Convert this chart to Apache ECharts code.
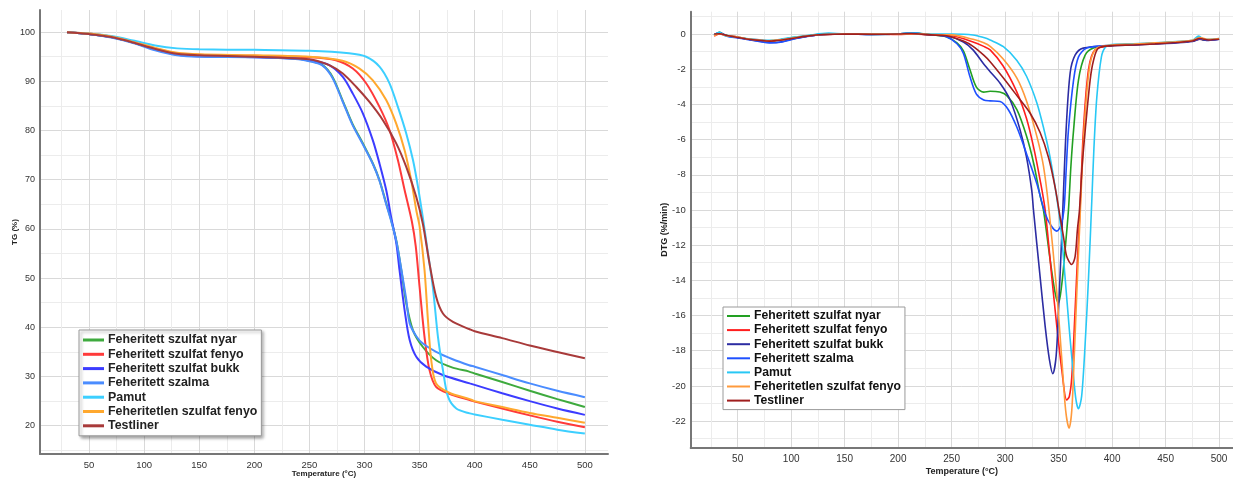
<!DOCTYPE html>
<html>
<head>
<meta charset="utf-8">
<script src="https://cdn.jsdelivr.net/npm/echarts@6/dist/echarts.min.js"></script>
<style>
html,body{margin:0;padding:0;background:#fff;}
#tg{position:absolute;left:0;top:0;width:620px;height:479px;}
#dtg{position:absolute;left:620px;top:0;width:613px;height:479px;}
</style>
</head>
<body>
<div id="tg"></div>
<div id="dtg"></div>
<script>
// ---------- DATA ----------
const SERIES_NAMES = [
  "Feheritett szulfat nyar",
  "Feheritett szulfat fenyo",
  "Feheritett szulfat bukk",
  "Feheritett szalma",
  "Pamut",
  "Feheritetlen szulfat fenyo",
  "Testliner"
];

const TEMP_MAJOR_TICKS = [50, 100, 150, 200, 250, 300, 350, 400, 450, 500];
const TEMP_MINOR_TICKS = [25, 75, 125, 175, 225, 275, 325, 375, 425, 475];
const TG_MAJOR_TICKS = [20, 30, 40, 50, 60, 70, 80, 90, 100];
const TG_MINOR_TICKS = [15, 25, 35, 45, 55, 65, 75, 85, 95];
const DTG_MAJOR_TICKS = [-22, -20, -18, -16, -14, -12, -10, -8, -6, -4, -2, 0];
const DTG_MINOR_TICKS = [-23, -21, -19, -17, -15, -13, -11, -9, -7, -5, -3, -1, 1];

// TG (%) vs temperature (°C)
const tgNyar = [[30,100],[50,99.6],[70,99.0],[90,97.9],[110,96.5],[130,95.5],[150,95.2],[200,95.0],[240,94.6],[250,94.2],[262,93.3],[271,90.9],[280,86.2],[289,81.4],[298.5,77.4],[307.6,73.3],[313.6,69.9],[319.7,65.2],[324.2,61.8],[329,57.5],[333.5,51.5],[338,44.8],[344,39.4],[353,36.0],[365,33.3],[380,31.8],[395,31.0],[400,30.6],[425,28.9],[450,27.1],[475,25.4],[500,23.8]];
const tgFenyo = [[30,100],[50,99.7],[70,99.1],[90,98.0],[110,96.7],[130,95.7],[150,95.4],[200,95.2],[250,94.9],[274,94.3],[289.4,92.6],[301.5,89.6],[313.6,84.8],[322.7,80.1],[330.3,74.0],[336.4,67.9],[343,61.5],[346.5,56.5],[350,48.2],[354.5,38.0],[359,31.3],[365,27.9],[377,26.5],[395.5,25.2],[400,24.9],[425,23.5],[450,22.1],[475,20.8],[500,19.7]];
const tgBukk = [[30,100],[50,99.6],[70,99.0],[90,97.9],[110,96.5],[130,95.4],[150,95.1],[200,94.9],[240,94.6],[250,94.3],[268,93.3],[280.3,90.9],[289.4,87.5],[298.5,83.5],[307.6,78.0],[313.6,73.3],[319.7,67.9],[324.2,62.4],[328.8,57.2],[331.8,51.6],[336.4,43.5],[341,37.4],[347,34.0],[356,32.0],[371,30.3],[395.5,28.6],[400,28.3],[425,26.6],[450,25.0],[475,23.5],[500,22.2]];
const tgSzalma = [[30,100],[50,99.6],[70,98.9],[90,97.8],[110,96.3],[130,95.3],[150,95.0],[200,94.9],[240,94.5],[250,94.1],[262,93.2],[271,90.7],[280,86.0],[289,81.2],[298.5,77.2],[307.6,73.2],[313.6,69.8],[319.7,65.0],[324.2,61.6],[329,57.4],[334,51.0],[338,45.5],[341,40.8],[347,38.2],[353,36.7],[365,35.0],[380,33.5],[395,32.3],[400,32.0],[425,30.3],[450,28.6],[475,27.1],[500,25.8]];
const tgPamut = [[30,100],[50,99.7],[70,99.2],[90,98.3],[110,97.3],[130,96.7],[150,96.5],[200,96.4],[250,96.2],[286,95.7],[301.5,95.0],[313.6,93.0],[322.7,89.6],[330.3,84.8],[337.9,79.4],[344,74.0],[348.5,68.6],[353.5,61.5],[357,56.0],[362,48.2],[366.7,38.0],[371.2,31.3],[375.8,25.9],[383.3,23.5],[395.5,22.5],[400,22.3],[425,21.2],[450,20.2],[475,19.2],[500,18.4]];
const tgFeheritetlen = [[30,100],[50,99.7],[70,99.1],[90,98.0],[110,96.8],[130,95.8],[150,95.5],[200,95.3],[250,95.0],[280,94.2],[295.5,92.6],[307.6,90.2],[319.7,86.2],[328.8,81.4],[336.4,76.0],[342.4,69.9],[347,63.8],[350,60.5],[354.5,51.6],[357.6,41.4],[360.6,33.3],[365,28.6],[377,26.7],[395.5,25.4],[400,25.0],[425,23.8],[450,22.6],[475,21.6],[500,20.6]];
const tgTestliner = [[30,100],[50,99.6],[70,99.0],[90,97.9],[110,96.6],[130,95.6],[150,95.3],[200,95.0],[250,94.5],[268,93.3],[280.3,91.6],[292.4,88.9],[304.5,85.8],[316.7,82.1],[328.8,77.4],[337.9,72.6],[347,66.5],[353,61.0],[359,53.0],[365,46.2],[371.2,42.8],[380.3,41.1],[395.5,39.6],[400,39.2],[425,37.8],[450,36.3],[475,35.0],[500,33.7]];

// DTG (%/min) vs temperature (°C)
const dtgNyar = [[28,-0.08],[33,0.1],[38,-0.05],[50,-0.18],[60,-0.28],[70,-0.35],[80,-0.38],[90,-0.33],[100,-0.22],[115,-0.1],[130,-0.02],[150,0.02],[175,-0.02],[200,0.0],[212,0.05],[230,-0.03],[245,-0.15],[255,-0.5],[261,-0.95],[267,-2.0],[273,-3.0],[280,-3.3],[286,-3.25],[295,-3.3],[301.6,-3.5],[311,-4.3],[320,-5.8],[326.5,-7.3],[332.7,-9.2],[335.8,-10.0],[342,-12.8],[346.7,-14.7],[349.9,-15.3],[353,-14.2],[356,-12.3],[359.2,-10.0],[361.5,-7.5],[364,-5.45],[368.6,-2.6],[374.8,-1.2],[382.6,-0.8],[400,-0.65],[420,-0.58],[440,-0.52],[460,-0.45],[475,-0.38],[481,-0.2],[486,-0.35],[500,-0.28]];
const dtgFenyo = [[28,-0.12],[33,0.0],[40,-0.1],[50,-0.17],[60,-0.3],[70,-0.33],[80,-0.4],[90,-0.32],[100,-0.25],[115,-0.12],[130,-0.04],[150,0.0],[175,0.0],[200,-0.02],[215,0.0],[230,-0.05],[250,-0.1],[270,-0.45],[280,-0.7],[286,-0.9],[298,-1.8],[311,-3.3],[320,-4.8],[326.5,-6.4],[332.7,-8.3],[337.4,-10.0],[343.6,-13.8],[348.3,-16.6],[353,-19.1],[357.5,-20.8],[360,-20.6],[362.3,-19.5],[365.4,-15.7],[367.6,-12.8],[370,-10.0],[373.2,-5.45],[378,-2.0],[384,-0.9],[400,-0.65],[420,-0.6],[440,-0.53],[460,-0.46],[475,-0.4],[482,-0.3],[490,-0.33],[500,-0.27]];
const dtgBukk = [[28,-0.05],[33,0.05],[40,-0.1],[50,-0.2],[60,-0.3],[70,-0.4],[80,-0.48],[90,-0.45],[100,-0.3],[115,-0.12],[130,-0.02],[150,0.0],[175,-0.02],[200,0.0],[212,0.06],[230,-0.05],[245,-0.1],[261,-0.45],[270,-0.9],[280,-1.7],[286,-2.14],[295.3,-2.8],[304.7,-3.75],[314,-5.45],[320,-7.0],[324.9,-8.9],[326.5,-10.0],[332.7,-13.8],[337.4,-16.6],[341.4,-18.5],[344.6,-19.3],[347.7,-18.3],[349.9,-15.7],[352,-12.8],[353.9,-10.0],[357,-5.45],[360.8,-2.2],[365.4,-1.2],[373,-0.8],[400,-0.66],[420,-0.62],[440,-0.56],[460,-0.5],[475,-0.42],[482,-0.3],[490,-0.36],[500,-0.3]];
const dtgSzalma = [[28,-0.05],[33,0.08],[40,-0.12],[50,-0.22],[60,-0.32],[70,-0.42],[80,-0.5],[90,-0.47],[100,-0.32],[115,-0.14],[130,-0.03],[150,0.01],[175,-0.02],[200,0.0],[212,0.05],[230,-0.04],[245,-0.15],[255,-0.55],[261,-1.1],[267,-2.4],[273,-3.4],[280,-3.75],[286,-3.8],[295.3,-3.84],[303,-4.3],[311,-5.3],[320,-6.8],[329.6,-8.5],[337.4,-10.2],[343,-10.9],[348.3,-11.2],[352,-10.9],[355,-10.0],[357,-7.8],[359.2,-5.45],[364,-2.6],[368.6,-1.3],[376.3,-0.8],[400,-0.64],[420,-0.6],[440,-0.54],[460,-0.48],[475,-0.4],[482,-0.28],[490,-0.34],[500,-0.29]];
const dtgPamut = [[28,-0.05],[33,0.1],[38,-0.1],[50,-0.18],[60,-0.27],[70,-0.33],[80,-0.36],[90,-0.3],[100,-0.2],[115,-0.08],[135,0.05],[150,0.0],[175,0.0],[200,0.02],[212,0.05],[230,0.0],[250,0.0],[270,-0.05],[280,-0.2],[286,-0.34],[298.4,-0.72],[311,-1.5],[320,-2.4],[329.6,-3.9],[335.8,-5.3],[342,-7.0],[348,-9.2],[352,-11.0],[356,-13.8],[360,-16.8],[362.5,-18.5],[366,-20.7],[368.5,-21.3],[371.5,-20.6],[374.8,-17.6],[378,-13.8],[381,-9.5],[383,-6.5],[385.7,-3.6],[390,-1.3],[394,-0.72],[400,-0.6],[420,-0.55],[440,-0.5],[460,-0.43],[475,-0.36],[481,-0.12],[486,-0.3],[500,-0.25]];
const dtgFeheritetlen = [[28,-0.1],[33,0.02],[40,-0.1],[50,-0.17],[60,-0.28],[70,-0.34],[80,-0.38],[90,-0.33],[100,-0.24],[115,-0.11],[130,-0.03],[150,0.0],[175,0.0],[200,-0.01],[215,0.02],[230,-0.03],[250,-0.05],[270,-0.3],[280,-0.5],[286,-0.7],[298,-1.4],[311,-2.5],[320,-3.8],[329.6,-5.8],[335.8,-7.5],[341,-10.0],[348.3,-14.7],[353,-18.5],[356.6,-21.4],[359.8,-22.4],[362.3,-21.4],[364.5,-18.5],[367,-14.7],[370,-10.5],[372.5,-7.0],[374.8,-4.5],[379.5,-1.67],[385.7,-0.8],[400,-0.62],[420,-0.57],[440,-0.5],[460,-0.44],[475,-0.36],[482,-0.2],[490,-0.3],[500,-0.25]];
const dtgTestliner = [[28,0.0],[33,0.02],[40,-0.08],[50,-0.2],[60,-0.3],[70,-0.36],[80,-0.4],[90,-0.35],[100,-0.26],[115,-0.12],[130,-0.03],[150,0.0],[175,-0.01],[200,0.0],[212,0.03],[230,-0.05],[245,-0.1],[261,-0.4],[270,-0.7],[280,-1.2],[286,-1.57],[298.4,-2.5],[311,-3.5],[323.4,-4.5],[332.7,-5.6],[340.5,-7.0],[346.7,-8.7],[351.4,-10.4],[354.5,-11.5],[357.6,-12.65],[362.3,-13.1],[365.4,-12.65],[367.6,-11.1],[369.5,-10.0],[372,-7.5],[374.8,-5.5],[379.5,-2.6],[382.6,-1.5],[387.2,-0.8],[400,-0.66],[420,-0.62],[440,-0.56],[460,-0.48],[475,-0.4],[482,-0.25],[490,-0.34],[500,-0.3]];

const TG_DATA = [tgNyar, tgFenyo, tgBukk, tgSzalma, tgPamut, tgFeheritetlen, tgTestliner];
const DTG_DATA = [dtgNyar, dtgFenyo, dtgBukk, dtgSzalma, dtgPamut, dtgFeheritetlen, dtgTestliner];

const TG_COLORS = ['#3eaa3e', '#ff3a3a', '#3c3cff', '#4a8cff', '#3ccfff', '#ffa82e', '#a83a3a'];
const DTG_COLORS = ['#22a022', '#ff1e1e', '#2c2ca2', '#1e50ff', '#28c8f5', '#ff9a3c', '#a01e1e'];

// ---------- BUILD ----------
const FONT = '"Liberation Sans", Arial, sans-serif';

function axisPair(dir, min, max, major, minor, label) {
  const main = {
    type: 'value', min: min, max: max,
    axisLine: { show: true, onZero: false, lineStyle: { color: '#777', width: 2 } },
    axisTick: { show: false, customValues: major },
    axisLabel: Object.assign({ customValues: major, color: '#333', fontFamily: FONT }, label.axisLabel),
    splitLine: { show: true, lineStyle: { color: '#d9d9d9', width: 1 } },
    name: label.name, nameLocation: 'middle', nameGap: label.nameGap, nameMoveOverlap: false,
    nameTextStyle: { fontSize: label.nameSize, fontWeight: 'bold', color: '#222', fontFamily: FONT }
  };
  const minorAxis = {
    type: 'value', min: min, max: max,
    axisLine: { show: false }, axisTick: { show: false, customValues: minor },
    axisLabel: { show: false },
    splitLine: { show: true, lineStyle: { color: '#ececec', width: 1 } }
  };
  if (dir === 'x') { main.position = 'bottom'; minorAxis.position = 'bottom'; }
  else { main.position = 'left'; minorAxis.position = 'left'; }
  return [main, minorAxis];
}

function makeSeries(datasets, colors, width) {
  return datasets.map((d, i) => ({
    name: SERIES_NAMES[i], type: 'line', data: d,
    xAxisIndex: 0, yAxisIndex: 0,
    showSymbol: false, symbol: 'none',
    smooth: 0.3,
    lineStyle: { color: colors[i], width: width },
    itemStyle: { color: colors[i] },
    emphasis: { disabled: true }
  }));
}

const tgChart = echarts.init(document.getElementById('tg'));
tgChart.setOption({
  animation: false,
  backgroundColor: '#fff',
  grid: { left: 40, right: 12, top: 10, bottom: 25, containLabel: false, outerBoundsMode: 'none' },
  xAxis: axisPair('x', 5.5, 521, TEMP_MAJOR_TICKS, TEMP_MINOR_TICKS,
    { name: 'Temperature (°C)', nameGap: 16, nameSize: 8, axisLabel: { fontSize: 9.5, margin: 6 } }),
  yAxis: axisPair('y', 14.25, 104.5, TG_MAJOR_TICKS, TG_MINOR_TICKS,
    { name: 'TG (%)', nameGap: 21, nameSize: 8, axisLabel: { fontSize: 9, margin: 5 } }),
  legend: {
    orient: 'vertical', left: 79, top: 330,
    data: SERIES_NAMES,
    icon: 'rect', itemWidth: 21, itemHeight: 3, itemGap: 0.3,
    padding: [3, 4, 3, 4],
    backgroundColor: '#fff', borderColor: '#9a9a9a', borderWidth: 1,
    shadowColor: 'rgba(0,0,0,0.35)', shadowBlur: 3, shadowOffsetX: 2, shadowOffsetY: 2,
    selectedMode: false,
    textStyle: { fontSize: 12.4, fontWeight: 'bold', color: '#222', fontFamily: FONT, lineHeight: 14, padding: [0, 0, 0, -1] }
  },
  series: makeSeries(TG_DATA, TG_COLORS, 2)
});

const dtgChart = echarts.init(document.getElementById('dtg'));
dtgChart.setOption({
  animation: false,
  backgroundColor: '#fff',
  grid: { left: 70.7, right: 0, top: 11.7, bottom: 31, containLabel: false, outerBoundsMode: 'none' },
  xAxis: axisPair('x', 6.1, 513, TEMP_MAJOR_TICKS, TEMP_MINOR_TICKS,
    { name: 'Temperature (°C)', nameGap: 19, nameSize: 9, axisLabel: { fontSize: 10, margin: 6 } }),
  yAxis: axisPair('y', -23.53, 1.27, DTG_MAJOR_TICKS, DTG_MINOR_TICKS,
    { name: 'DTG (%/min)', nameGap: 22, nameSize: 9, axisLabel: { fontSize: 9.5, margin: 5 } }),
  legend: {
    orient: 'vertical', left: 103, top: 307,
    data: SERIES_NAMES,
    icon: 'rect', itemWidth: 23, itemHeight: 2, itemGap: 0.1,
    padding: [2, 4, 2, 4],
    backgroundColor: '#fff', borderColor: '#9a9a9a', borderWidth: 1,
    selectedMode: false,
    textStyle: { fontSize: 12.2, fontWeight: 'bold', color: '#111', fontFamily: FONT, lineHeight: 14, padding: [0, 0, 0, -1] }
  },
  series: makeSeries(DTG_DATA, DTG_COLORS, 1.6)
});
</script>
</body>
</html>
